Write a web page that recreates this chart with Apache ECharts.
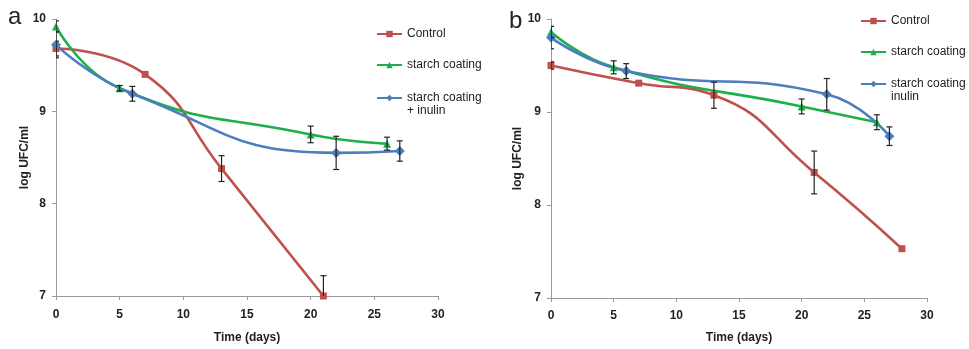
<!DOCTYPE html>
<html><head><meta charset="utf-8">
<script src="https://cdn.jsdelivr.net/npm/echarts@6/dist/echarts.min.js"></script>
<style>html,body{margin:0;padding:0;background:#fff}#c{width:969px;height:349px}</style>
</head><body><div id="c"></div>
<script>
// ---- Data ----
// Panel a
const aControlDays = [0, 7, 13, 21];
const aControlVals = [9.68, 9.40, 8.38, 7.00];
const aControlErr  = [0.08, 0, 0.14, 0.22];
const aStarchDays = [0, 5, 20, 26];
const aStarchVals = [9.92, 9.25, 8.75, 8.65];
const aStarchErr  = [0.06, 0.03, 0.09, 0.07];
const aInulinDays = [0, 6, 22, 27];
const aInulinVals = [9.72, 9.19, 8.55, 8.57];
const aInulinErr  = [0.14, 0.08, 0.18, 0.11];
// Panel b
const bControlDays = [0, 7, 13, 21, 28];
const bControlVals = [9.50, 9.31, 9.18, 8.35, 7.53];
const bControlErr  = [0.04, 0, 0.14, 0.23, 0];
const bStarchDays = [0, 5, 20, 26];
const bStarchVals = [9.86, 9.48, 9.06, 8.89];
const bStarchErr  = [0.06, 0.07, 0.08, 0.08];
const bInulinDays = [0, 6, 22, 27];
const bInulinVals = [9.80, 9.44, 9.19, 8.74];
const bInulinErr  = [0.12, 0.08, 0.17, 0.10];

const seriesNames = ['Control', 'starch coating', 'starch coating + inulin'];
const legendTextA = ['Control', 'starch coating', 'starch coating\n+ inulin'];
const legendTextB = ['Control', 'starch coating', 'starch coating +\ninulin'];
const panelLetters = ['a', 'b'];
const xAxisTitle = 'Time (days)';
const yAxisTitle = 'log UFC/ml';

const colors = ['#C0504D', '#1DB04A', '#4A7EBF'];
const symbols = ['rect', 'triangle', 'diamond'];
const symbolSizes = [7, 8, 10];
const FONT = 'Liberation Sans';

function pts(d, v) { return d.map((x, i) => [x, v[i]]); }
function errs(d, v, e) { return d.map((x, i) => [x, v[i] - e[i], v[i] + e[i]]).filter((r, i) => e[i] > 0); }

function lineSeries(idx, gi, d, v) {
  return {
    type: 'line', name: seriesNames[idx], xAxisIndex: gi, yAxisIndex: gi,
    data: pts(d, v), smooth: 0.5, symbol: symbols[idx], symbolSize: symbolSizes[idx],
    showSymbol: true, color: colors[idx],
    lineStyle: { width: 2.6, color: colors[idx] }, itemStyle: { color: colors[idx] },
    z: 3, clip: false
  };
}
function errSeries(gi, d, v, e) {
  return {
    type: 'custom', xAxisIndex: gi, yAxisIndex: gi, clip: true, z: 5,
    data: errs(d, v, e), encode: { x: 0, y: [1, 2] }, silent: true,
    renderItem: function (params, api) {
      const lo = api.coord([api.value(0), api.value(1)]);
      const hi = api.coord([api.value(0), api.value(2)]);
      const w = 3;
      const st = { stroke: '#222', lineWidth: 1.2 };
      return { type: 'group', children: [
        { type: 'line', shape: { x1: lo[0], y1: lo[1], x2: hi[0], y2: hi[1] }, style: st },
        { type: 'line', shape: { x1: lo[0] - w, y1: lo[1], x2: lo[0] + w, y2: lo[1] }, style: st },
        { type: 'line', shape: { x1: hi[0] - w, y1: hi[1], x2: hi[0] + w, y2: hi[1] }, style: st }
      ]};
    }
  };
}

function xAx(gi, gap, margin) {
  return {
    type: 'value', gridIndex: gi, min: 0, max: 30, interval: 5,
    name: xAxisTitle, nameLocation: 'middle', nameGap: gap, nameMoveOverlap: false,
    nameTextStyle: { fontFamily: FONT, fontWeight: 'bold', fontSize: 12, color: '#222' },
    axisLine: { show: true, lineStyle: { color: '#999', width: 1 } },
    axisTick: { show: true, length: 4, lineStyle: { color: '#999' } },
    axisLabel: { fontFamily: FONT, fontWeight: 'bold', fontSize: 12, color: '#222', margin: margin },
    splitLine: { show: false }
  };
}
function yAx(gi, gap) {
  return {
    type: 'value', gridIndex: gi, min: 7, max: 10, interval: 1,
    name: yAxisTitle, nameLocation: 'middle', nameGap: gap, nameRotate: 90, nameMoveOverlap: false,
    nameTextStyle: { fontFamily: FONT, fontWeight: 'bold', fontSize: 12, color: '#222' },
    axisLine: { show: true, lineStyle: { color: '#999', width: 1 } },
    axisTick: { show: true, length: 4, lineStyle: { color: '#999' } },
    axisLabel: { fontFamily: FONT, fontWeight: 'bold', fontSize: 12, color: '#222', margin: 10 },
    splitLine: { show: false }
  };
}

function legendItem(idx, left, centerY, texts) {
  const multi = texts[idx].indexOf('\n') >= 0;
  const ts = { fontFamily: FONT, fontSize: 12, color: '#222', lineHeight: 13,
               rich: { sp: { fontSize: 12, lineHeight: 13 } } };
  return {
    left: left, top: multi ? centerY - 18.5 : centerY - 6.5, padding: 0,
    itemWidth: 25, itemHeight: 8, itemGap: 0, orient: 'vertical',
    data: [seriesNames[idx]],
    formatter: function () { return multi ? '{sp| }\n' + texts[idx] : texts[idx]; },
    textStyle: ts, selectedMode: false
  };
}

const option = {
  backgroundColor: '#fff',
  animation: false,
  title: [
    { text: panelLetters[0], left: 8, top: 5, padding: 0, textStyle: { fontFamily: FONT, fontSize: 24, fontWeight: 'normal', color: '#222' } },
    { text: panelLetters[1], left: 509, top: 9, padding: 0, textStyle: { fontFamily: FONT, fontSize: 24, fontWeight: 'normal', color: '#222' } }
  ],
  grid: [
    { left: 56, right: 531, top: 19, bottom: 49 },
    { left: 551, right: 42, top: 19, bottom: 47 }
  ],
  xAxis: [xAx(0, 36, 13), xAx(1, 34, 12)],
  yAxis: [yAx(0, 25), yAx(1, 27)],
  legend: [
    legendItem(0, 376, 34, legendTextA),
    legendItem(1, 376, 65, legendTextA),
    legendItem(2, 376, 97, legendTextA),
    legendItem(0, 860, 21, legendTextB),
    legendItem(1, 860, 52, legendTextB),
    legendItem(2, 860, 83, legendTextB)
  ],
  series: [
    lineSeries(0, 0, aControlDays, aControlVals),
    lineSeries(1, 0, aStarchDays, aStarchVals),
    lineSeries(2, 0, aInulinDays, aInulinVals),
    errSeries(0, aControlDays, aControlVals, aControlErr),
    errSeries(0, aStarchDays, aStarchVals, aStarchErr),
    errSeries(0, aInulinDays, aInulinVals, aInulinErr),
    lineSeries(0, 1, bControlDays, bControlVals),
    lineSeries(1, 1, bStarchDays, bStarchVals),
    lineSeries(2, 1, bInulinDays, bInulinVals),
    errSeries(1, bControlDays, bControlVals, bControlErr),
    errSeries(1, bStarchDays, bStarchVals, bStarchErr),
    errSeries(1, bInulinDays, bInulinVals, bInulinErr)
  ]
};
const chart = echarts.init(document.getElementById('c'), null, { renderer: 'canvas' });
chart.setOption(option);
</script></body></html>
